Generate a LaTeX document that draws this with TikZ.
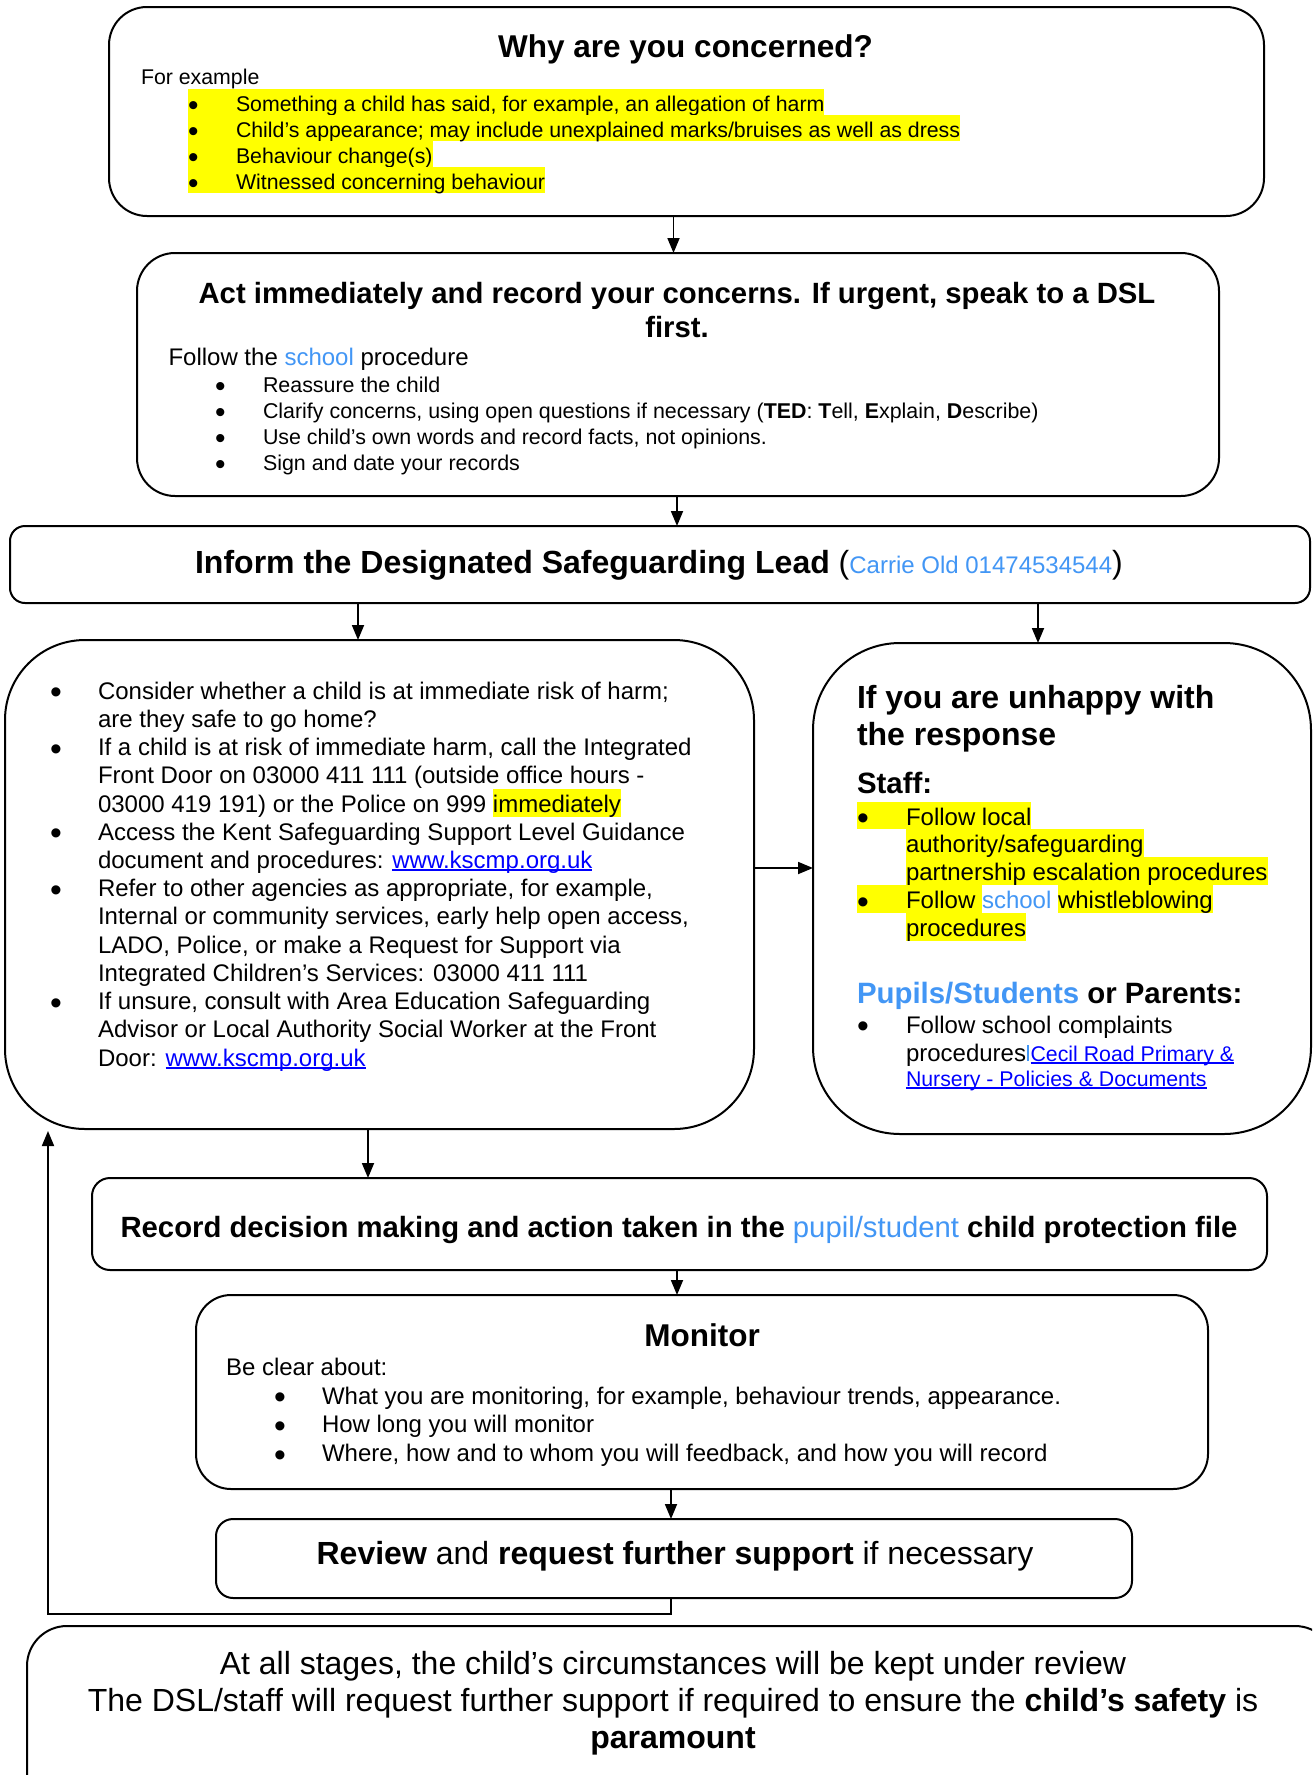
\documentclass[tikz,border=0pt]{standalone}
\usepackage{fontspec}
\setmainfont{Liberation Sans}
\usetikzlibrary{arrows.meta}
\definecolor{lblue}{RGB}{66,150,245}
\definecolor{lnk}{RGB}{0,0,255}
\definecolor{hly}{RGB}{255,255,0}
\newcommand\fs[1]{\fontsize{#1pt}{#1pt}\selectfont}
\newcommand\bul[1]{\makebox[#1][l]{\smash{\raisebox{-0.2em}{\scalebox{1.4}{\textbullet}}}}}
\newsavebox\ulbox
\newcommand\ulink[1]{\sbox\ulbox{#1}\rlap{\rule[-2.5pt]{\wd\ulbox}{1.4pt}}\usebox\ulbox}
\newcommand\hlA[1]{{\setlength{\fboxsep}{0pt}\colorbox{hly}{\rule[-4pt]{0pt}{26pt}#1}}}
\newcommand\hlB[1]{{\setlength{\fboxsep}{0pt}\colorbox{hly}{\rule[-4pt]{0pt}{27.5pt}#1}}}
\begin{document}
\begin{tikzpicture}[x=1pt,y=-1pt,
  box/.style={draw, line width=2pt, inner sep=0pt, outer sep=0pt, rectangle},
  arr/.style={line width=1.8pt, -{Triangle[length=15pt,width=12pt]}},
  tl/.style={anchor=base west, inner sep=0pt, outer sep=0pt},
  tc/.style={anchor=base, inner sep=0pt, outer sep=0pt}]
\useasboundingbox (0,0) rectangle (1312,1775);
\clip (0,0) rectangle (1312,1775);
\fill[white] (0,0) rectangle (1312,1775);

% boxes
\node[box, rounded corners=38pt, minimum width=1155pt, minimum height=209pt] (b1) at (686.5,111.5) {};
\node[box, rounded corners=38pt, minimum width=1082pt, minimum height=243pt] (b2) at (678,374.5) {};
\node[box, rounded corners=15pt, minimum width=1300pt, minimum height=77pt] (b3) at (660,564.5) {};
\node[box, rounded corners=80pt, minimum width=749pt, minimum height=489pt] (bL) at (379.5,884.5) {};
\node[box, rounded corners=87pt, minimum width=498pt, minimum height=491pt] (bR) at (1062,888.5) {};
\node[box, rounded corners=18pt, minimum width=1175pt, minimum height=92pt] (bRec) at (679.5,1224) {};
\node[box, rounded corners=35pt, minimum width=1012pt, minimum height=194pt] (bMon) at (702,1392) {};
\node[box, rounded corners=17pt, minimum width=916pt, minimum height=79pt] (bRev) at (674,1558.5) {};
\node[box, rounded corners=40pt, minimum width=1308pt, minimum height=200pt] (bBot) at (681,1726) {};

% connectors
\draw[arr] ([xshift=-13pt]b1.south) -- ([xshift=-4.5pt]b2.north);
\draw[arr] ([xshift=-1pt]b2.south) -- ([xshift=17pt]b3.north);
\draw[arr] ([xshift=-302pt]b3.south) -- ([xshift=-21.5pt]bL.north);
\draw[arr] ([xshift=378pt]b3.south) -- ([xshift=-24pt]bR.north);
\draw[arr] ([yshift=16.5pt]bL.east) -- ([yshift=20.5pt]bR.west);
\draw[arr] ([xshift=-11.5pt]bL.south) -- ([xshift=-311.5pt]bRec.north);
\draw[arr] ([xshift=-2.5pt]bRec.south) -- ([xshift=-25pt]bMon.north);
\draw[arr] ([xshift=-31pt]bMon.south) -- ([xshift=-3pt]bRev.north);
\coordinate (fb) at (48,1131);
\draw[arr] ([xshift=-3pt]bRev.south) -- ++(0,16) -| (fb);

% box 1
\node[tc] (t1) at (685.5,57) {\fs{31.5}\bfseries Why are you concerned?};
\node[tl] (t1a) at (141,84.5) {\fs{21.3}For example};
\node[tl] (t1b) at (188,111) {\fs{21.3}\hlA{\bul{48pt}Something a child has said, for example, an allegation of harm}};
\node[tl] (t1c) at (188,137) {\fs{21.3}\hlA{\bul{48pt}Child’s appearance; may include unexplained marks/bruises as well as dress}};
\node[tl] (t1d) at (188,163) {\fs{21.3}\hlA{\bul{48pt}Behaviour change(s)}};
\node[tl] (t1e) at (188,189) {\fs{21.3}\hlA{\bul{48pt}Witnessed concerning behaviour}};

% box 2
\node[tc] (t2a) at (677,303.5) {\fs{29.3}\bfseries Act immediately and record your concerns. If urgent, speak to a DSL};
\node[tc] (t2b) at (677,337.5) {\fs{29.3}\bfseries first.};
\node[tl] (t2c) at (168.5,365.5) {\fs{24}Follow the \textcolor{lblue}{school} procedure};
\node[tl] (t2d) at (215,392) {\fs{21.4}\bul{48pt}Reassure the child};
\node[tl] (t2e) at (215,418) {\fs{21.4}\bul{48pt}Clarify concerns, using open questions if necessary (\textbf{TED}: \textbf{T}ell, \textbf{E}xplain, \textbf{D}escribe)};
\node[tl] (t2f) at (215,444) {\fs{21.4}\bul{48pt}Use child’s own words and record facts, not opinions.};
\node[tl] (t2g) at (215,470) {\fs{21.4}\bul{48pt}Sign and date your records};

% box 3
\node[tc] (t3) at (659,573) {\fs{32}\textbf{Inform the Designated Safeguarding Lead} (\textcolor{lblue}{\fs{24}Carrie Old 01474534544})};

% left box
\node[tl] (l1) at (50,699) {\fs{24}\bul{48pt}Consider whether a child is at immediate risk of harm;};
\node[tl] (l2) at (98,727) {\fs{24}are they safe to go home?};
\node[tl] (l3) at (50,755.5) {\fs{24}\bul{48pt}If a child is at risk of immediate harm, call the Integrated};
\node[tl] (l4) at (98,783.5) {\fs{24}Front Door on 03000 411 111 (outside office hours -};
\node[tl] (l5) at (98,812) {\fs{24}03000 419 191) or the Police on 999 \hlB{immediately}};
\node[tl] (l6) at (50,840) {\fs{24}\bul{48pt}Access the Kent Safeguarding Support Level Guidance};
\node[tl] (l7) at (98,868) {\fs{24}document and procedures: \textcolor{lnk}{\ulink{www.kscmp.org.uk}}};
\node[tl] (l8) at (50,896.5) {\fs{24}\bul{48pt}Refer to other agencies as appropriate, for example,};
\node[tl] (l9) at (98,924.5) {\fs{24}Internal or community services, early help open access,};
\node[tl] (l10) at (98,953) {\fs{24}LADO, Police, or make a Request for Support via};
\node[tl] (l11) at (98,981) {\fs{24}Integrated Children’s Services: 03000 411 111};
\node[tl] (l12) at (50,1009.5) {\fs{24}\bul{48pt}If unsure, consult with Area Education Safeguarding};
\node[tl] (l13) at (98,1037.5) {\fs{24}Advisor or Local Authority Social Worker at the Front};
\node[tl] (l14) at (98,1066) {\fs{24}Door: \textcolor{lnk}{\ulink{www.kscmp.org.uk}}};

% right box
\node[tl] (r1) at (857,708.5) {\fs{32}\bfseries If you are unhappy with};
\node[tl] (r2) at (857,745.5) {\fs{32}\bfseries the response};
\node[tl] (r3) at (857,793.5) {\fs{29.4}\bfseries Staff:};
\node[tl] (r4) at (857,825) {\fs{24}\hlB{\bul{49pt}Follow local}};
\node[tl] (r5) at (906,852.5) {\fs{24}\hlB{authority/safeguarding}};
\node[tl] (r6) at (906,880) {\fs{24}\hlB{partnership escalation procedures}};
\node[tl] (r7) at (857,908.5) {\fs{24}\hlB{\bul{49pt}Follow }\textcolor{lblue}{school} \hlB{whistleblowing}};
\node[tl] (r8) at (906,936.5) {\fs{24}\hlB{procedures}};
\node[tl] (r9) at (857,1003) {\fs{29.4}\bfseries\textcolor{lblue}{Pupils/Students} or Parents:};
\node[tl] (r10) at (857,1033) {\fs{24}\bul{49pt}Follow school complaints};
\node[tl] (r11) at (906,1061) {\fs{24}procedures\hspace{1pt}\textcolor{lblue}{\rule{1.5pt}{16pt}}\hspace{2pt}\textcolor{lnk}{\fs{21.3}\ulink{Cecil Road Primary \&}}};
\node[tl] (r12) at (906,1086) {\textcolor{lnk}{\fs{21.3}\ulink{Nursery - Policies \& Documents}}};

% record
\node[tc] (rec) at (679,1237.5) {\fs{29.3}\textbf{Record decision making and action taken in the} \textcolor{lblue}{pupil/student} \textbf{child protection file}};

% monitor
\node[tc] (m1) at (702,1346) {\fs{31.5}\bfseries Monitor};
\node[tl] (m2) at (226,1375) {\fs{24}Be clear about:};
\node[tl] (m3) at (274,1404) {\fs{24}\bul{48pt}What you are monitoring, for example, behaviour trends, appearance.};
\node[tl] (m4) at (274,1432.5) {\fs{24}\bul{48pt}How long you will monitor};
\node[tl] (m5) at (274,1461.5) {\fs{24}\bul{48pt}Where, how and to whom you will feedback, and how you will record};

% review
\node[tc] (rv) at (675,1564.5) {\fs{32}\textbf{Review} and \textbf{request further support} if necessary};

% bottom
\node[tc] (bt1) at (673,1674.5) {\fs{32}At all stages, the child’s circumstances will be kept under review};
\node[tc] (bt2) at (673,1711.5) {\fs{32}The DSL/staff will request further support if required to ensure the \textbf{child’s safety} is};
\node[tc] (bt3) at (673,1748.5) {\fs{32}\textbf{paramount}};
\end{tikzpicture}
\end{document}
